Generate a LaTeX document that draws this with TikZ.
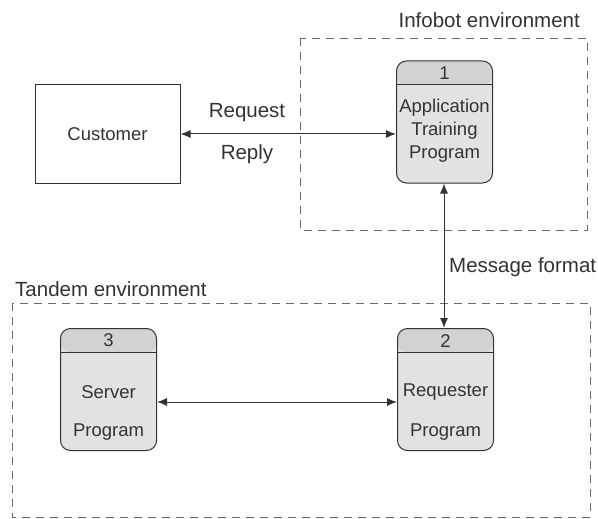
\documentclass[tikz,border=0pt]{standalone}
\usepackage{fontspec}
\setmainfont{Liberation Sans}
\usetikzlibrary{arrows.meta}
\definecolor{ink}{HTML}{333333}
\definecolor{bodyfill}{HTML}{E2E2E2}
\definecolor{headfill}{HTML}{D2D2D2}
\definecolor{envline}{HTML}{6A6A6A}
\tikzset{
  ink/.style={draw=ink, line width=1pt},
  envbox/.style={draw=envline, line width=0.9pt, dash pattern=on 8pt off 6pt},
  extbox/.style={ink, minimum width=145pt, minimum height=98pt, inner sep=0pt},
  procbox/.style={ink, fill=bodyfill, rounded corners=10pt, minimum width=96pt,
    minimum height=122pt, inner sep=0pt,
    path picture={
      \fill[headfill] (path picture bounding box.north west) rectangle
        ([yshift=-24pt]path picture bounding box.north east);
      \draw[ink] ([yshift=-24pt]path picture bounding box.north west) --
        ([yshift=-24pt]path picture bounding box.north east);}},
  numtxt/.style={text=ink, font=\fontsize{18.5}{20}\selectfont, inner sep=0pt},
  bodytxt/.style={text=ink, font=\fontsize{18.5}{23}\selectfont, align=center, inner sep=0pt},
  lbl/.style={text=ink, font=\fontsize{20.5}{22}\selectfont, inner sep=0pt},
  flow/.style={ink, {Latex[length=10pt,width=8pt]}-{Latex[length=10pt,width=8pt]}}
}
\begin{document}
\begin{tikzpicture}[x=1pt,y=-1pt]
\useasboundingbox (0,0) rectangle (598,519);

% environment boundaries
\draw[envbox] (300,38) rectangle (587,230);
\draw[envbox] (12,303) rectangle (590,517);
\node[lbl, anchor=east] (infobot) at (580,20) {Infobot environment};
\node[lbl, anchor=west] (tandem) at (15,289) {Tandem environment};

% external entity
\node[extbox] (customer) at (107.5,134) {};
\node[bodytxt] (customertxt) at (107.5,134) {Customer};

% processes
\node[procbox] (p1) at (444.5,122) {};
\node[numtxt] (p1num) at (444.5,73) {1};
\node[bodytxt] (p1txt) at (444.5,131) {Application\\Training\\Program};

\node[procbox] (p2) at (445.5,389.5) {};
\node[numtxt] (p2num) at (445.5,341) {2};
\node[bodytxt] (p2a) at (445.5,392) {Requester};
\node[bodytxt] (p2b) at (445.5,432) {Program};

\node[procbox] (p3) at (108.5,389.5) {};
\node[numtxt] (p3num) at (108.5,340) {3};
\node[bodytxt] (p3a) at (108.5,392) {Server};
\node[bodytxt] (p3b) at (108.5,432) {Program};

% data flows
\draw[flow] (customer.east |- 0,134) -- (p1.west |- 0,134);
\node[lbl] (req) at (247,113) {Request};
\node[lbl] (rep) at (247,154) {Reply};

\draw[flow] (p1.south -| 444,0) -- (p2.north -| 444,0);
\node[lbl, anchor=west] (msg) at (449,267) {Message format};

\draw[flow] (p3.east |- 0,402) -- (p2.west |- 0,402);
\end{tikzpicture}
\end{document}
